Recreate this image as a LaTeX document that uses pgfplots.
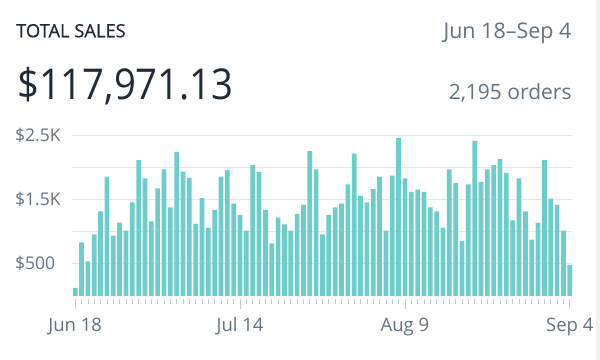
\documentclass[border=0pt]{standalone}
\usepackage{fontspec}
\setmainfont{Open Sans}
\newfontfamily\titlefont{Open Sans}[FakeBold=0.6]
\newfontfamily\bigfont{Open Sans}[FakeStretch=0.9]
\usepackage{pgfplots}
\pgfplotsset{compat=1.18}
\definecolor{ink}{RGB}{33,43,54}
\definecolor{sub}{RGB}{99,115,129}
\definecolor{barc}{RGB}{108,206,202}
\definecolor{gridc}{RGB}{228,231,234}
\definecolor{tickc}{RGB}{196,205,213}
\begin{document}
\begin{tikzpicture}
\fill[white] (0bp,0bp) rectangle (600bp,360bp);
\fill[black!6] (596bp,0bp) rectangle (600bp,360bp);
\node[anchor=base west, inner sep=0pt, text=ink, font=\titlefont\fontsize{18.3bp}{21bp}\selectfont] at (16bp,322.7bp) {TOTAL SALES};
\node[anchor=base west, inner sep=0pt, text=ink, font=\bigfont\fontsize{42.5bp}{48bp}\selectfont] at (17bp,260bp) {\$117,971.13};
\node[anchor=base east, inner sep=0pt, text=sub, font=\fontsize{21.5bp}{24bp}\selectfont] at (571.7bp,321.7bp) {Jun 18–Sep 4};
\node[anchor=base east, inner sep=0pt, text=sub, font=\fontsize{21bp}{24bp}\selectfont] at (571.7bp,260.7bp) {2,195 orders};
\begin{axis}[
  at={(71.7bp,64bp)}, anchor=south west,
  scale only axis, width=500bp, height=161bp,
  xmin=-0.55, xmax=78.3, ymin=0, ymax=2500,
  axis line style={draw=none},
  ybar, bar width=0.74, bar shift=0pt,
  ytick={500,1000,1500,2000,2500},
  yticklabels={\$500,,\$1.5K,,\$2.5K},
  ymajorgrids, grid style={gridc, line width=0.8bp},
  ytick style={draw=none},
  xtick={0,26,52,78},
  xticklabels={Jun 18,Jul 14,Aug 9,Sep 4},
  minor xtick={0,...,78},
  xtick pos=bottom, tick align=outside,
  major tick length=10bp, minor tick length=5bp,
  xtick style={draw=tickc, line width=0.7bp, yshift=-3.5bp},
  minor tick style={draw=tickc, line width=0.6bp},
  xticklabel style={anchor=base, yshift=-25bp, font=\fontsize{18.5bp}{21bp}\selectfont, text=sub},
  yticklabel style={anchor=west, xshift=-50bp, font=\fontsize{17.5bp}{20bp}\selectfont, text=sub},
  clip=false,
]
\addplot[fill=barc, draw=none] coordinates {
(0,125) (1,834) (2,539) (3,958) (4,1315) (5,1854) (6,937) (7,1140) (8,1015) (9,1455)
(10,2108) (11,1828) (12,1160) (13,1673) (14,1968) (15,1378) (16,2233) (17,1932) (18,1834) (19,1119)
(20,1518) (21,1057) (22,1336) (23,1854) (24,1953) (25,1435) (26,1254) (27,1015) (28,2031) (29,1927)
(30,1336) (31,818) (32,1217) (33,1114) (34,1015) (35,1274) (36,1414) (37,2248) (38,1968) (39,958)
(40,1254) (41,1378) (42,1435) (43,1735) (44,2212) (45,1554) (46,1455) (47,1658) (48,1854) (49,1015)
(50,1870) (51,2450) (52,1828) (53,1616) (54,1652) (55,1616) (56,1378) (57,1315) (58,1057) (59,1968)
(60,1751) (61,855) (62,1735) (63,2409) (64,1771) (65,1968) (66,2031) (67,2129) (68,1911) (69,1176)
(70,1828) (71,1315) (72,875) (73,1134) (74,2108) (75,1513) (76,1414) (77,1015) (78,482)
};
\end{axis}
\end{tikzpicture}
\end{document}
